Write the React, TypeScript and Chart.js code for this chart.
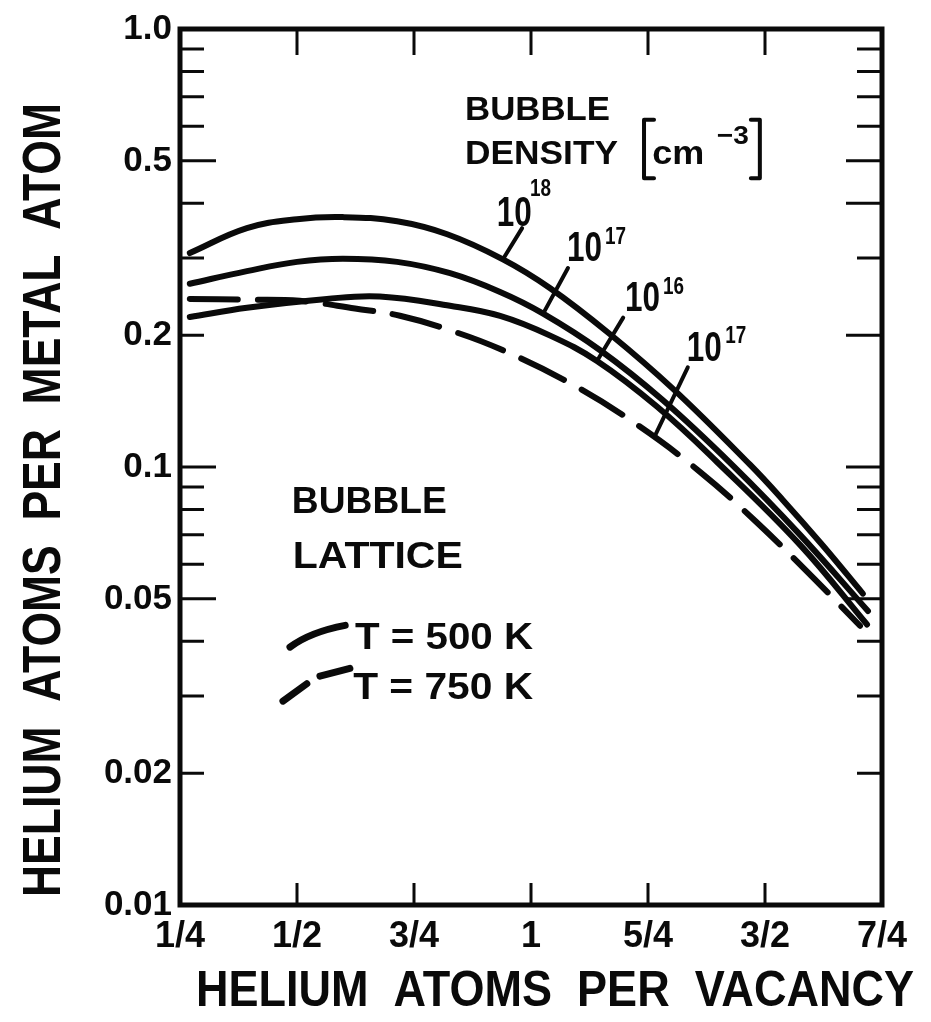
import { useEffect, useRef } from "react";
import { Chart, registerables } from "chart.js";
Chart.register(...registerables);

// ---- axis ticks ----
const xTickValues = [0.25, 0.5, 0.75, 1, 1.25, 1.5, 1.75];
const xTickLabels = ["1/4", "1/2", "3/4", "1", "5/4", "3/2", "7/4"];
const yTickValues = [0.01, 0.02, 0.05, 0.1, 0.2, 0.5, 1];
const yTickLabels = ["0.01", "0.02", "0.05", "0.1", "0.2", "0.5", "1.0"];
const yMinorValues = [0.03, 0.04, 0.06, 0.07, 0.08, 0.09, 0.3, 0.4, 0.6, 0.7, 0.8, 0.9];

// ---- series (T = 500 K, solid) ----
const d18x = [0.271, 0.393, 0.5, 0.598, 0.714, 0.821, 0.94, 1.041, 1.169, 1.303, 1.468, 1.538, 1.624, 1.709];
const d18y = [0.308, 0.351, 0.368, 0.372, 0.364, 0.34, 0.298, 0.256, 0.201, 0.151, 0.1012, 0.0841, 0.0661, 0.0514];
const d17x = [0.271, 0.393, 0.5, 0.598, 0.714, 0.827, 0.934, 1.026, 1.147, 1.282, 1.432, 1.575, 1.72];
const d17y = [0.262, 0.28, 0.294, 0.299, 0.294, 0.277, 0.251, 0.224, 0.185, 0.142, 0.1006, 0.07, 0.0469];
const d16x = [0.271, 0.393, 0.564, 0.677, 0.827, 0.934, 1.041, 1.141, 1.269, 1.397, 1.575, 1.718];
const d16y = [0.22, 0.231, 0.242, 0.245, 0.2334, 0.2213, 0.1995, 0.1746, 0.1374, 0.1028, 0.0664, 0.0437];
// ---- series (T = 750 K, dashed, 10^17) ----
const h17x = [0.271, 0.393, 0.506, 0.624, 0.72, 0.827, 0.934, 1.083, 1.222, 1.361, 1.481, 1.607, 1.703];
const h17y = [0.242, 0.241, 0.2395, 0.23, 0.2215, 0.2052, 0.1859, 0.1555, 0.1259, 0.0975, 0.075, 0.0553, 0.0434];

// ---- annotations (data coordinates) ----
const curveLabels = [
  { base: [0.927, 0.355], exp: [0.998, 0.415], power: "18", leader: [0.981, 0.351, 0.94, 0.298] },
  { base: [1.077, 0.2955], exp: [1.158, 0.323], power: "17", leader: [1.079, 0.2847, 1.026, 0.224] },
  { base: [1.201, 0.2274], exp: [1.282, 0.2486], power: "16", leader: [1.197, 0.2193, 1.141, 0.1746] },
  { base: [1.333, 0.175], exp: [1.415, 0.1923], power: "17", leader: [1.335, 0.1688, 1.265, 0.118] },
];

const FONT = "'Liberation Sans', Arial, sans-serif";
const INK = "#0a0a0a";

const pts = (xs: number[], ys: number[]) => xs.map((x, i) => ({ x, y: ys[i] }));

function drawScaled(ctx: CanvasRenderingContext2D, text: string, x: number, y: number, font: string, width: number, center = false) {
  ctx.save();
  ctx.font = font;
  const m = ctx.measureText(text).width;
  const s = width / m;
  ctx.translate(x, y);
  ctx.scale(s, 1);
  ctx.textAlign = "left";
  ctx.textBaseline = "alphabetic";
  ctx.fillText(text, center ? -m / 2 : 0, 0);
  ctx.restore();
}

const framePlugin = {
  id: "frameAndNotes",
  beforeDraw(chart: any) {
    const { ctx } = chart;
    ctx.save();
    ctx.fillStyle = "#fff";
    ctx.fillRect(0, 0, chart.width, chart.height);
    ctx.restore();
  },
  afterDraw(chart: any) {
    const { ctx, chartArea: a, scales } = chart;
    const X = (v: number) => scales.x.getPixelForValue(v);
    const Y = (v: number) => scales.y.getPixelForValue(v);
    ctx.save();
    ctx.strokeStyle = INK;
    ctx.fillStyle = INK;
    ctx.lineCap = "butt";
    // frame
    ctx.lineWidth = 5;
    ctx.strokeRect(a.left, a.top, a.right - a.left, a.bottom - a.top);
    // x ticks inward (top & bottom)
    ctx.lineWidth = 3;
    xTickValues.slice(1, -1).forEach((v) => {
      const px = X(v);
      ctx.beginPath();
      ctx.moveTo(px, a.top);
      ctx.lineTo(px, a.top + 26);
      ctx.moveTo(px, a.bottom);
      ctx.lineTo(px, a.bottom - 22);
      ctx.stroke();
    });
    // y ticks inward (left & right)
    const longL = [0.5, 0.1, 0.05];
    const longR = [0.5, 0.4, 0.2, 0.1, 0.05];
    [...yTickValues.slice(1, -1), ...yMinorValues].forEach((v) => {
      const py = Y(v);
      const lenL = longL.includes(v) ? 36 : 24;
      const lenR = longR.includes(v) ? 36 : 25;
      ctx.beginPath();
      ctx.moveTo(a.left, py);
      ctx.lineTo(a.left + lenL, py);
      ctx.moveTo(a.right, py);
      ctx.lineTo(a.right - lenR, py);
      ctx.stroke();
    });

    // curve labels and leaders
    ctx.lineWidth = 4;
    ctx.lineCap = "round";
    curveLabels.forEach((c) => {
      const [x1, y1, x2, y2] = c.leader;
      ctx.beginPath();
      ctx.moveTo(X(x1), Y(y1));
      ctx.lineTo(X(x2), Y(y2));
      ctx.stroke();
      drawScaled(ctx, "10", X(c.base[0]), Y(c.base[1]), `bold 42px ${FONT}`, 35);
      drawScaled(ctx, c.power, X(c.exp[0]), Y(c.exp[1]), `bold 24px ${FONT}`, 21);
    });

    // BUBBLE DENSITY [cm-3]
    drawScaled(ctx, "BUBBLE", X(0.859), Y(0.621), `bold 34px ${FONT}`, 145);
    drawScaled(ctx, "DENSITY", X(0.859), Y(0.493), `bold 34px ${FONT}`, 153);
    drawScaled(ctx, "cm", X(1.259), Y(0.493), `bold 34px ${FONT}`, 52);
    drawScaled(ctx, "\u22123", X(1.397), Y(0.545), `bold 26px ${FONT}`, 32);
    ctx.lineWidth = 4;
    ctx.lineCap = "round";
    ctx.lineJoin = "round";
    const bl = X(1.2415), br = X(1.489), bt = Y(0.621), bb = Y(0.456);
    ctx.beginPath();
    ctx.moveTo(bl + 10, bt);
    ctx.lineTo(bl, bt);
    ctx.lineTo(bl, bb);
    ctx.lineTo(bl + 10, bb);
    ctx.moveTo(br - 9, bt);
    ctx.lineTo(br, bt);
    ctx.lineTo(br, bb);
    ctx.lineTo(br - 9, bb);
    ctx.stroke();

    // BUBBLE LATTICE legend
    drawScaled(ctx, "BUBBLE", X(0.489), Y(0.0786), `bold 36px ${FONT}`, 155);
    drawScaled(ctx, "LATTICE", X(0.491), Y(0.0589), `bold 36px ${FONT}`, 170);
    drawScaled(ctx, "T = 500 K", X(0.624), Y(0.0384), `bold 37px ${FONT}`, 178);
    drawScaled(ctx, "T = 750 K", X(0.62), Y(0.0295), `bold 37px ${FONT}`, 180);
    ctx.lineWidth = 7;
    ctx.lineCap = "round";
    ctx.beginPath();
    ctx.moveTo(X(0.485), Y(0.0388));
    ctx.quadraticCurveTo(X(0.528), Y(0.042), X(0.603), Y(0.0435));
    ctx.stroke();
    ctx.beginPath();
    ctx.moveTo(X(0.47), Y(0.0292));
    ctx.lineTo(X(0.521), Y(0.032));
    ctx.moveTo(X(0.549), Y(0.0333));
    ctx.lineTo(X(0.613), Y(0.0347));
    ctx.stroke();

    // axis titles
    drawScaled(ctx, "HELIUM  ATOMS  PER  VACANCY", 555, 1006, `bold 50px ${FONT}`, 718, true);
    ctx.save();
    ctx.translate(60, 500);
    ctx.rotate(-Math.PI / 2);
    drawScaled(ctx, "HELIUM  ATOMS  PER  METAL  ATOM", 0, 0, `bold 54px ${FONT}`, 794, true);
    ctx.restore();

    ctx.restore();
  },
};

export default function App() {
  const ref = useRef<HTMLCanvasElement | null>(null);
  useEffect(() => {
    if (!ref.current) return;
    const solid = (data: any) => ({
      data,
      borderColor: INK,
      borderWidth: 6,
      pointRadius: 0,
      tension: 0.4,
      borderCapStyle: "round" as const,
      fill: false,
    });
    const chart = new Chart(ref.current, {
      type: "line",
      data: {
        datasets: [
          { label: "10^18 (500 K)", ...solid(pts(d18x, d18y)) },
          { label: "10^17 (500 K)", ...solid(pts(d17x, d17y)) },
          { label: "10^16 (500 K)", ...solid(pts(d16x, d16y)) },
          { label: "10^17 (750 K)", ...solid(pts(h17x, h17y)), borderDash: [48, 20] },
        ],
      },
      options: {
        responsive: false,
        devicePixelRatio: 1,
        animation: false,
        layout: { padding: { top: 22, right: 49, left: 0, bottom: 0 } },
        plugins: { legend: { display: false }, tooltip: { enabled: false } },
        scales: {
          x: {
            type: "linear",
            min: 0.25,
            max: 1.75,
            afterBuildTicks: (s: any) => {
              s.ticks = xTickValues.map((v) => ({ value: v }));
            },
            afterFit: (s: any) => {
              s.height = 117;
            },
            grid: { display: false, drawTicks: false },
            border: { display: false },
            ticks: {
              autoSkip: false,
              maxRotation: 0,
              padding: 10,
              color: INK,
              font: { family: FONT, size: 36, weight: "bold" },
              callback: (v: any) => xTickLabels[xTickValues.indexOf(Number(v))] ?? "",
            },
          },
          y: {
            type: "logarithmic",
            min: 0.01,
            max: 1,
            afterBuildTicks: (s: any) => {
              s.ticks = yTickValues.map((v) => ({ value: v }));
            },
            afterFit: (s: any) => {
              s.width = 180;
            },
            grid: { display: false, drawTicks: false },
            border: { display: false },
            ticks: {
              autoSkip: false,
              padding: 8,
              color: INK,
              font: { family: FONT, size: 35, weight: "bold" },
              callback: (v: any) => yTickLabels[yTickValues.indexOf(Number(v))] ?? "",
            },
          },
        },
      },
      plugins: [framePlugin],
    });
    return () => chart.destroy();
  }, []);
  return (
    <div style={{ position: "fixed", left: 0, top: 0, width: 931, height: 1022, background: "#fff" }}>
      <canvas ref={ref} width={931} height={1022} style={{ display: "block", width: 931, height: 1022 }} />
    </div>
  );
}
